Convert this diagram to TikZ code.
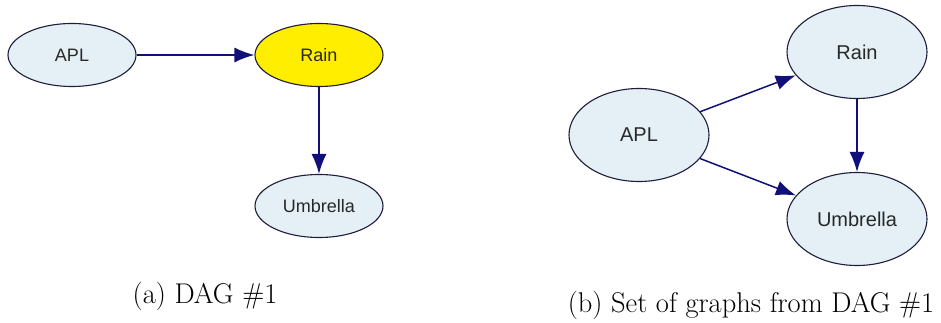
\documentclass[tikz,border=0pt]{standalone}
\usepackage{fontspec}
\newfontfamily\nodefont{Liberation Sans}
\usetikzlibrary{shapes.geometric,arrows.meta}
\definecolor{nodefill}{RGB}{228,240,246}
\definecolor{rainyellow}{RGB}{255,238,0}
\definecolor{edgenavy}{RGB}{16,16,120}
\definecolor{outline}{RGB}{30,30,60}
\definecolor{labelgray}{RGB}{40,40,40}
\tikzset{
  bnode/.style={ellipse, draw=outline, line width=1.1pt, fill=nodefill, inner sep=0pt,
    text=labelgray, font=\nodefont},
  smallnode/.style={bnode, minimum width=128pt, minimum height=63pt, font=\nodefont\fontsize{18}{20}\selectfont},
  bignode/.style={bnode, minimum width=140pt, minimum height=93pt, font=\nodefont\fontsize{20}{22}\selectfont},
  edge/.style={draw=edgenavy, line width=1.5pt, -{Latex[length=20pt,width=15pt]}},
  caption/.style={anchor=base, inner sep=0pt, font=\fontsize{28.5}{33}\selectfont}
}
\begin{document}
\begin{tikzpicture}[x=1pt,y=-1pt]
\useasboundingbox (0,0) rectangle (941,323);
% (a)
\node[smallnode] (aapl) at (72,55) {APL};
\node[smallnode, fill=rainyellow] (arain) at (319,55) {Rain};
\node[smallnode] (aumb) at (319,206) {Umbrella};
\draw[edge] (aapl) -- (arain);
\draw[edge] (arain) -- (aumb);
\node[caption] (capa) at (205,303) {(a) DAG \#1};
% (b)
\node[bignode] (brain) at (857,52) {Rain};
\node[bignode] (bapl) at (639,135) {APL};
\node[bignode] (bumb) at (857,219) {Umbrella};
\draw[edge] (bapl) -- (brain);
\draw[edge] (bapl) -- (bumb);
\draw[edge] (brain) -- (bumb);
\node[caption] (capb) at (751,312) {(b) Set of graphs from DAG \#1};
\end{tikzpicture}
\end{document}
